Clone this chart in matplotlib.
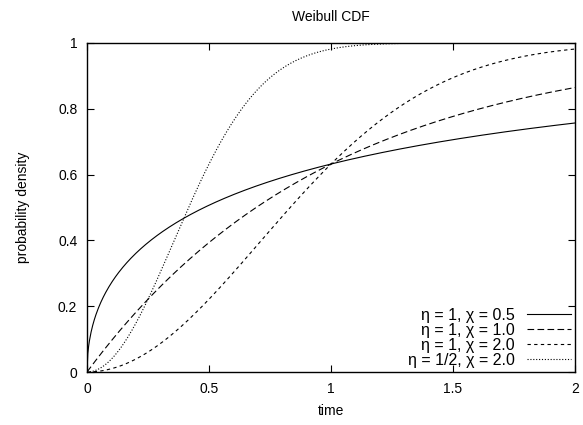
import matplotlib
matplotlib.use("Agg")
import matplotlib.pyplot as plt
import numpy as np

plt.rcParams["font.family"] = ["Liberation Sans", "DejaVu Sans"]

# Weibull parameters (scale eta, shape chi) as given in the legend
eta = [1.0, 1.0, 1.0, 0.5]
chi = [0.5, 1.0, 2.0, 2.0]
labels = ["η = 1, χ = 0.5", "η = 1, χ = 1.0", "η = 1, χ = 2.0", "η = 1/2, χ = 2.0"]
styles = ["-", (0, (6, 3)), (0, (3, 3)), (0, (1, 1.6))]

t = np.linspace(0, 2, 600)
xticks = [0, 0.5, 1, 1.5, 2]
yticks = [0, 0.2, 0.4, 0.6, 0.8, 1]

fig = plt.figure(figsize=(5.83, 4.25), dpi=100)
ax = fig.add_axes([87 / 583, 1 - 372 / 425, (575 - 87) / 583, (372 - 43) / 425])

for e, c, lab, ls in zip(eta, chi, labels, styles):
    F = 1 - np.exp(-(t / e) ** c)
    ax.plot(t, F, color="black", lw=0.8, linestyle=ls, label=lab)

ax.set_xlim(0, 2)
ax.set_ylim(0, 1)
ax.set_xticks(xticks)
ax.set_xticklabels(["0", "0.5", "1", "1.5", "2"])
ax.set_yticks(yticks)
ax.set_yticklabels(["0", "0.2", "0.4", "0.6", "0.8", "1"])
ax.tick_params(direction="in", length=5, width=0.8, top=True, right=True,
               labelsize=10, pad=7)
for s in ax.spines.values():
    s.set_linewidth(1.0)

ax.set_title("Weibull CDF", fontsize=10, pad=16)
ax.set_xlabel("time", fontsize=10, labelpad=6)
ax.set_ylabel("probability density", fontsize=10, labelpad=20)

ax.legend(loc="lower right", frameon=False, markerfirst=False, fontsize=11.5,
          handlelength=2.75, handletextpad=0.75, labelspacing=0.0,
          borderaxespad=0.0, borderpad=0.25)

fig.savefig("out.png", dpi=100, facecolor="white")
